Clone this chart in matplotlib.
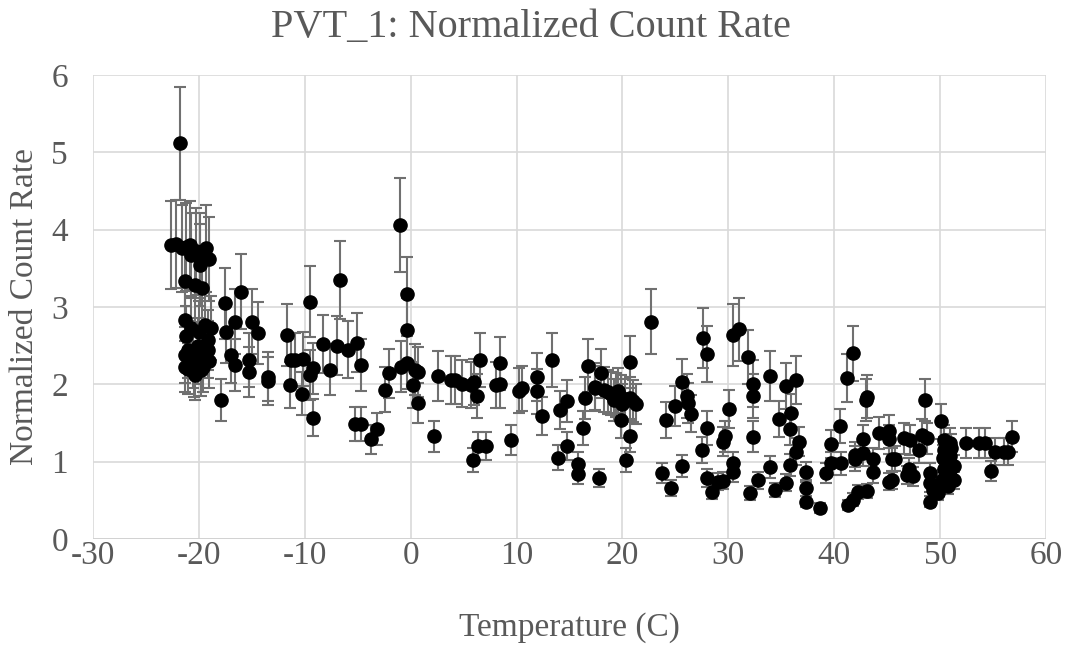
import matplotlib
matplotlib.use("Agg")
import matplotlib.pyplot as plt

# ---- data ----
temperature = [
    -22.6, -22.2, -21.8, -21.6, -21.2, -20.8, -20.7, -20.3, -19.9, -19.9, -19.3, -19.0,
    -21.3, -20.4, -19.7,
    -21.3, -20.7, -19.4, -18.9, -21.2, -20.0,
    -21.0, -20.1, -19.1, -19.1, -21.3, -20.1, -20.6,
    -21.3, -20.5, -19.6, -20.4, -19.0, -21.0, -19.8,
    -17.9,
    -17.5, -16.0, -17.4, -16.6, -17.0, -16.6, -15.0, -14.4, -15.3, -15.3, -13.5, -13.5, -11.7, -11.4, -11.3,
    -10.9, -10.2, -9.5, -9.2, -9.5, -10.3, -9.2, -6.7, -8.3, -7.0, -7.6, -5.9, -5.1, -4.7, -5.3, -4.7, -3.2, -3.7, -2.4, -2.0,
    -1.0, -0.3, -0.3, -0.9, -0.3, 0.4, 0.7, 0.2, 0.7, 2.2, 2.6, 3.8, 4.2, 4.8, 5.7, 6.0, 6.3, 6.5, 8.4, 8.1, 8.4, 5.9, 6.4, 7.1,
    9.5, 10.2, 10.5, 11.9, 11.9, 12.4, 13.3, 14.1, 14.8, 13.9, 14.8, 15.8, 15.8, 16.7, 16.5, 16.3, 17.4, 17.8, 18.0, 17.4,
    18.3, 18.9, 19.4, 19.9, 20.2, 20.7, 21.3, 20.7, 19.9, 20.7, 20.3, 18.6, 19.2, 19.6, 20.0, 21.0,
    22.7, 24.1, 23.7, 24.6, 25.0, 25.6, 25.6, 26.1, 26.2, 26.5, 27.6, 28.0, 27.5, 28.0, 28.0, 28.5, 29.0, 29.5, 29.5, 29.7,
    30.1, 30.4, 30.4, 30.4, 31.0, 31.9, 32.3, 32.3, 32.3, 32.0, 32.8,
    33.9, 33.9, 34.4, 34.8, 35.4, 35.4, 35.8, 35.9, 35.8, 36.4, 36.7, 36.4, 37.3, 37.3, 37.3, 38.7, 39.2, 39.7, 39.7, 40.5,
    40.6, 41.2, 41.8, 41.3, 41.8, 42.2, 43.1, 42.0, 42.0, 42.7, 42.7, 43.0, 43.1, 43.7, 43.7, 44.2, 45.2, 45.2, 45.2, 45.5,
    45.7, 46.6, 47.2, 48.3, 48.8, 48.0, 47.1, 46.9, 47.4, 45.5, 49.0, 49.0, 49.3, 49.0, 49.8, 48.6, 50.1, 50.4, 50.9, 50.4,
    50.9, 51.3, 50.4, 50.9, 50.2, 50.7, 51.3, 50.6, 51.0, 50.3, 52.4, 53.7, 54.2, 55.2, 56.0, 56.4, 56.8, 54.8,
]
count_rate = [
    3.80, 3.82, 5.12, 3.76, 3.78, 3.80, 3.67, 3.72, 3.67, 3.54, 3.76, 3.62,
    3.33, 3.29, 3.24,
    2.83, 2.73, 2.77, 2.73, 2.62, 2.68,
    2.45, 2.49, 2.57, 2.45, 2.38, 2.36, 2.30,
    2.23, 2.16, 2.23, 2.12, 2.30, 2.20, 2.18,
    1.80,
    3.05, 3.20, 2.68, 2.81, 2.38, 2.25, 2.81, 2.66, 2.32, 2.16, 2.10, 2.04, 2.64, 1.99, 2.32,
    2.32, 2.33, 3.07, 2.21, 2.12, 1.88, 1.57, 3.35, 2.52, 2.50, 2.19, 2.45, 2.54, 2.25, 1.49, 1.49, 1.42, 1.29, 1.93, 2.14,
    4.06, 3.17, 2.70, 2.23, 2.28, 2.19, 2.16, 1.99, 1.76, 1.33, 2.11, 2.05, 2.05, 2.01, 1.99, 2.03, 1.85, 2.32, 2.27, 1.99, 2.00, 1.02, 1.20, 1.20,
    1.28, 1.92, 1.95, 2.09, 1.91, 1.59, 2.32, 1.67, 1.78, 1.05, 1.20, 0.97, 0.84, 2.24, 1.82, 1.44, 1.95, 0.79, 2.14, 1.97,
    1.93, 1.88, 1.86, 1.84, 1.80, 1.82, 1.75, 2.29, 1.54, 1.33, 1.02, 1.90, 1.80, 1.92, 1.75, 1.78,
    2.81, 1.54, 0.85, 0.66, 1.72, 2.03, 0.94, 1.85, 1.76, 1.62, 2.60, 2.39, 1.15, 1.44, 0.79, 0.61, 0.74, 0.75, 1.26, 1.33,
    1.68, 0.98, 0.87, 2.64, 2.71, 2.35, 2.01, 1.85, 1.32, 0.59, 0.76,
    2.11, 0.93, 0.63, 1.55, 1.98, 0.73, 1.42, 1.63, 0.96, 2.06, 1.26, 1.13, 0.87, 0.66, 0.48, 0.40, 0.85, 0.98, 1.23, 1.46,
    0.98, 2.08, 2.40, 0.44, 0.51, 0.61, 0.62, 1.04, 1.09, 1.29, 1.11, 1.80, 1.84, 1.03, 0.86, 1.37, 1.39, 1.29, 0.74, 1.03,
    1.04, 1.30, 1.28, 1.35, 1.30, 1.15, 0.91, 0.83, 0.81, 0.76, 0.85, 0.72, 0.63, 0.48, 0.59, 1.80, 1.52, 1.28, 1.24, 1.15,
    1.07, 0.94, 0.91, 0.81, 0.76, 0.68, 0.76, 1.00, 1.18, 1.05, 1.24, 1.24, 1.24, 1.13, 1.13, 1.13, 1.32, 0.88,
]
rate_error = [
    0.57, 0.57, 0.73, 0.56, 0.57, 0.57, 0.55, 0.56, 0.55, 0.53, 0.56, 0.54,
    0.50, 0.49, 0.49,
    0.42, 0.41, 0.42, 0.41, 0.39, 0.40,
    0.37, 0.37, 0.39, 0.37, 0.36, 0.35, 0.35,
    0.33, 0.32, 0.33, 0.32, 0.35, 0.33, 0.33,
    0.27,
    0.46, 0.48, 0.40, 0.42, 0.36, 0.34, 0.42, 0.40, 0.35, 0.32, 0.32, 0.31, 0.40, 0.30, 0.35,
    0.35, 0.35, 0.46, 0.33, 0.32, 0.28, 0.24, 0.50, 0.38, 0.38, 0.33, 0.37, 0.38, 0.34, 0.22, 0.22, 0.21, 0.19, 0.29, 0.32,
    0.61, 0.48, 0.41, 0.33, 0.34, 0.33, 0.32, 0.30, 0.26, 0.20, 0.32, 0.31, 0.31, 0.30, 0.30, 0.30, 0.28, 0.35, 0.34, 0.30, 0.30, 0.15, 0.18, 0.18,
    0.19, 0.29, 0.29, 0.31, 0.29, 0.24, 0.35, 0.25, 0.27, 0.16, 0.18, 0.15, 0.13, 0.34, 0.27, 0.22, 0.29, 0.12, 0.32, 0.30,
    0.29, 0.28, 0.28, 0.28, 0.27, 0.27, 0.26, 0.34, 0.23, 0.20, 0.15, 0.29, 0.27, 0.29, 0.26, 0.27,
    0.42, 0.23, 0.13, 0.10, 0.26, 0.30, 0.14, 0.28, 0.26, 0.24, 0.39, 0.36, 0.17, 0.22, 0.12, 0.09, 0.11, 0.11, 0.19, 0.20,
    0.25, 0.15, 0.13, 0.40, 0.41, 0.35, 0.30, 0.28, 0.20, 0.09, 0.11,
    0.32, 0.14, 0.09, 0.23, 0.30, 0.11, 0.21, 0.24, 0.14, 0.31, 0.19, 0.17, 0.13, 0.10, 0.07, 0.06, 0.13, 0.15, 0.18, 0.22,
    0.15, 0.31, 0.36, 0.07, 0.08, 0.09, 0.09, 0.16, 0.16, 0.19, 0.17, 0.27, 0.28, 0.15, 0.13, 0.21, 0.21, 0.19, 0.11, 0.15,
    0.16, 0.20, 0.19, 0.20, 0.20, 0.17, 0.14, 0.12, 0.12, 0.11, 0.13, 0.11, 0.09, 0.07, 0.09, 0.27, 0.23, 0.19, 0.19, 0.17,
    0.16, 0.14, 0.14, 0.12, 0.11, 0.10, 0.11, 0.15, 0.18, 0.16, 0.19, 0.19, 0.19, 0.17, 0.17, 0.17, 0.20, 0.13,
]
x_ticks = [-30, -20, -10, 0, 10, 20, 30, 40, 50, 60]
y_ticks = [0, 1, 2, 3, 4, 5, 6]

TEXT = "#595959"
plt.rcParams["font.family"] = ["Liberation Serif", "DejaVu Serif"]
plt.rcParams["axes.unicode_minus"] = False

fig = plt.figure(figsize=(10.69, 6.47), dpi=100)
ax = fig.add_axes([0.087, 0.167, 0.8915, 0.717])

ax.errorbar(temperature, count_rate, yerr=rate_error, fmt="o", color="black",
            markersize=9.5, ecolor="#707070", elinewidth=1.5, capsize=4.2,
            capthick=1.5, zorder=3)

ax.set_xlim(-30, 60)
ax.set_ylim(0, 6)
ax.set_xticks(x_ticks)
ax.set_yticks(y_ticks)
ax.grid(True, color="#d9d9d9", linewidth=1.2, zorder=0)
ax.set_axisbelow(True)
for s in ax.spines.values():
    s.set_visible(False)
ax.axhline(0, color="#d0d0d0", linewidth=1.2, zorder=1)
ax.tick_params(length=0, labelsize=24, colors=TEXT)
ax.tick_params(axis="x", pad=1)
ax.tick_params(axis="y", pad=18)

fig.suptitle("PVT_1: Normalized Count Rate", fontsize=29, color=TEXT,
             x=0.497, y=0.958, va="center")
ax.set_xlabel("Temperature (C)", fontsize=24, color=TEXT, labelpad=30)
ax.set_ylabel("Normalized Count Rate", fontsize=24, color=TEXT, labelpad=8)

fig.savefig("out.png", dpi=100)
